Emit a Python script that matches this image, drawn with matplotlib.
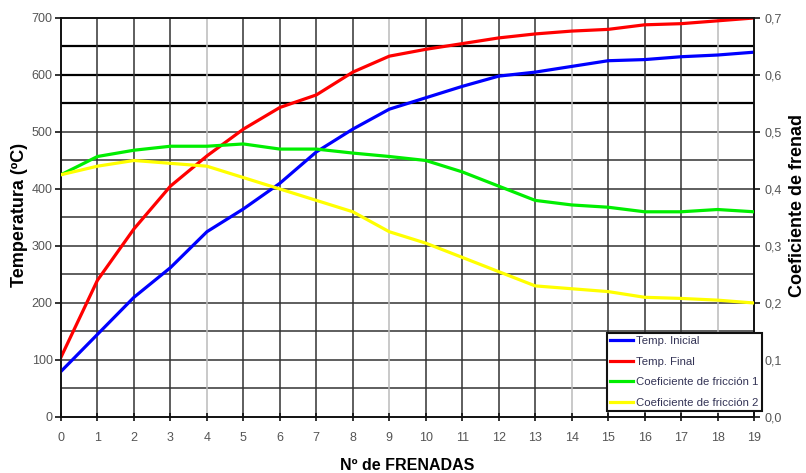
import matplotlib
matplotlib.use("Agg")
import matplotlib.pyplot as plt
import numpy as np

plt.rcParams["font.family"] = ["Liberation Sans", "DejaVu Sans"]

frenadas = list(range(20))
temp_inicial = [80, 145, 210, 262, 325, 365, 410, 465, 505, 540,
                560, 580, 598, 605, 615, 625, 627, 632, 635, 640]
temp_final = [105, 240, 330, 405, 458, 505, 543, 565, 605, 633,
              645, 655, 665, 672, 677, 680, 688, 690, 695, 700]
coef_1 = [0.425, 0.457, 0.468, 0.475, 0.475, 0.479, 0.470, 0.470, 0.463, 0.457,
          0.450, 0.430, 0.405, 0.380, 0.372, 0.368, 0.360, 0.360, 0.364, 0.360]
coef_2 = [0.425, 0.440, 0.450, 0.445, 0.440, 0.420, 0.400, 0.380, 0.360, 0.325,
          0.305, 0.280, 0.255, 0.230, 0.225, 0.220, 0.210, 0.208, 0.205, 0.200]

fig = plt.figure(figsize=(8.06, 4.73), dpi=100)
ax = fig.add_axes([0.0757, 0.1184, 0.8598, 0.8436])
ax2 = ax.twinx()

ax.set_xlim(0, 19)
ax.set_ylim(0, 700)
ax2.set_ylim(0, 0.7)

# grid (the top three lines look heavier in the original)
for v in np.arange(50, 700, 50):
    if v >= 550:
        ax.axhline(v, color="#000000", lw=1.6, zorder=1)
    else:
        ax.axhline(v, color="#333333", lw=1.1, zorder=1)
for x in frenadas[1:-1]:
    c = "#bbbbbb" if x in (4, 9, 14, 18) else "#333333"
    ax.axvline(x, color=c, lw=1.1, zorder=1)

l1, = ax.plot(frenadas, temp_inicial, color="#0000ff", lw=2.3, zorder=3)
l2, = ax.plot(frenadas, temp_final, color="#ff0000", lw=2.3, zorder=3)
l3, = ax2.plot(frenadas, coef_1, color="#00ee00", lw=2.3, zorder=3)
l4, = ax2.plot(frenadas, coef_2, color="#ffff00", lw=2.3, zorder=3)

ax.set_xticks(frenadas)
ax.set_yticks(range(0, 701, 100))
coef_ticks = np.arange(0, 0.71, 0.1)
ax2.set_yticks(coef_ticks)
ax2.set_yticklabels([("%.1f" % v).replace(".", ",") for v in coef_ticks])

for a in (ax, ax2):
    for s in a.spines.values():
        s.set_color("#111111")
        s.set_linewidth(1.2)
    a.tick_params(labelsize=9, labelcolor="#555555", color="#111111", width=1.2, length=4)
ax.tick_params(axis="y", pad=2)
ax.tick_params(axis="x", direction="inout", length=6, pad=8)

ax.set_xlabel("Nº de FRENADAS", fontsize=11.5, fontweight="bold")
ax.xaxis.set_label_coords(0.5, -0.103)
ax.set_ylabel("Temperatura (ºC)", fontsize=13, fontweight="bold")
ax.yaxis.set_label_coords(-0.047, 0.506)
ax2.set_ylabel("Coeficiente de frenad", fontsize=13, fontweight="bold")
ax2.yaxis.set_label_coords(1.051, 0.531)

leg = ax2.legend([l1, l2, l3, l4],
                 ["Temp. Inicial", "Temp. Final", "Coeficiente de fricción 1", "Coeficiente de fricción 2"],
                 loc="lower right", bbox_to_anchor=(1.011, 0.015), fontsize=8.2,
                 frameon=True, fancybox=False, handlelength=2.0, handletextpad=0.3,
                 borderpad=0.25, labelspacing=0.95, borderaxespad=0)
leg.get_frame().set_edgecolor("#111111")
leg.get_frame().set_linewidth(1.5)
leg.get_frame().set_alpha(1)
for t in leg.get_texts():
    t.set_color("#333355")

fig.savefig("out.png", dpi=100)
